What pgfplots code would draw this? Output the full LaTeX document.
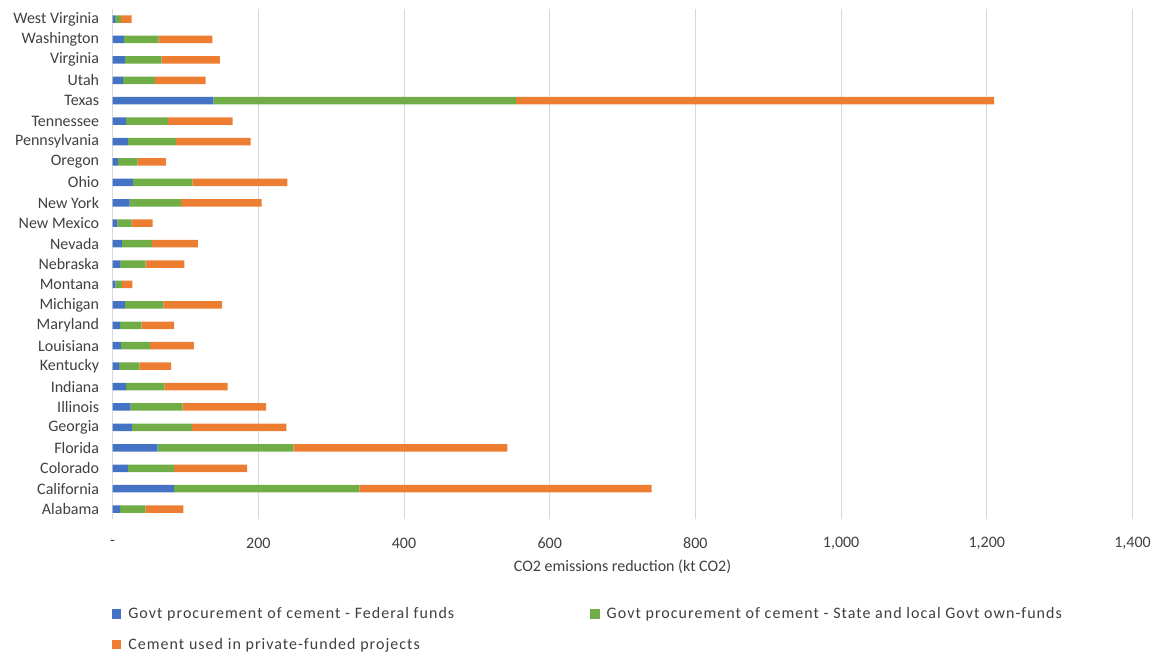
\documentclass[border=0pt]{standalone}
\usepackage{pgfplots}
\usepackage{pgfplotstable}
\pgfplotsset{compat=1.18}
\usepackage{fontspec}
\setmainfont{Carlito}
\newfontfamily\legfont[LetterSpace=6.5]{Carlito}
\definecolor{cblue}{HTML}{4472C4}
\definecolor{cgreen}{HTML}{70AD47}
\definecolor{corange}{HTML}{ED7D31}
\definecolor{gridc}{HTML}{D9D9D9}
\definecolor{txt}{HTML}{404040}
\pgfplotstableread{
y fed statelocal private
0 10.2 34.7 52.1
1 84.3 254.4 401.3
2 21.1 63.2 100.2
3 61.9 186.1 293.8
4 26.6 82.4 129.4
5 24.8 71.4 114.4
6 18.4 52.6 87.0
7 8.8 27.9 43.5
8 11.5 39.8 60.4
9 10.2 29.2 44.9
10 17.0 52.6 80.6
11 3.7 9.2 14.1
12 10.2 34.7 53.5
13 12.9 41.2 63.1
14 6.5 19.7 28.8
15 23.5 70.4 110.8
16 28.0 81.4 130.4
17 7.4 27.0 38.9
18 21.1 65.9 102.6
19 18.4 57.6 88.9
20 138.2 415.3 656.5
21 14.3 43.9 69.6
22 17.0 50.4 80.0
23 15.6 47.7 73.5
24 3.3 8.2 14.7
}\datatable
\begin{document}
\begin{tikzpicture}
\path[use as bounding box] (0,0) rectangle (1161pt,651pt);
\begin{axis}[
  at={(112.6pt,131.7pt)}, anchor=south west,
  scale only axis, width=1019.9pt, height=510.5pt,
  xbar stacked, bar width=7.5pt,
  xmin=0, xmax=1400, ymin=-0.5, ymax=24.5,
  xtick={0,200,...,1400},
  xticklabels={{-\hspace{9pt}},200,400,600,800,{1,000},{1,200},{1,400}},
  ytick={0,...,24},
  yticklabels={Alabama,California,Colorado,Florida,Georgia,Illinois,Indiana,Kentucky,Louisiana,Maryland,Michigan,Montana,Nebraska,Nevada,New Mexico,New York,Ohio,Oregon,Pennsylvania,Tennessee,Texas,Utah,Virginia,Washington,West Virginia},
  axis x line=bottom, axis y line=left,
  axis line style={draw=none},
  xmajorgrids, major grid style={gridc, line width=0.8pt},
  major tick length=0pt,
  tick label style={font=\fontsize{16}{19}\selectfont, text=txt},
  xticklabel style={anchor=center, yshift=-23.7pt},
  yticklabel style={xshift=-10pt},
  xlabel={CO2 emissions reduction (kt CO2)},
  xlabel style={at={(axis description cs:0.5,0)}, anchor=base, yshift=-51.9pt, font=\fontsize{16}{19}\selectfont, text=txt},
  legend columns=2,
  legend cell align=left,
  legend style={draw=none, at={(axis description cs:0,0)}, anchor=north west, xshift=-4pt, yshift=-84pt,
    font=\legfont\fontsize{16}{19}\selectfont, text=txt, row sep=14pt,
    /tikz/every even column/.append style={column sep=134pt}},
  legend image code/.code={\fill[#1,draw=none] (0pt,-4.75pt) rectangle (9.5pt,4.75pt); \path (14.5pt,0pt);},
]
\addplot[fill=cblue, draw=none] table[x=fed, y=y] {\datatable};
\addplot[fill=cgreen, draw=none] table[x=statelocal, y=y] {\datatable};
\addplot[fill=corange, draw=none] table[x=private, y=y] {\datatable};
\legend{Govt procurement of cement - Federal funds, Govt procurement of cement - State and local Govt own-funds, Cement used in private-funded projects}
\end{axis}
\end{tikzpicture}
\end{document}
